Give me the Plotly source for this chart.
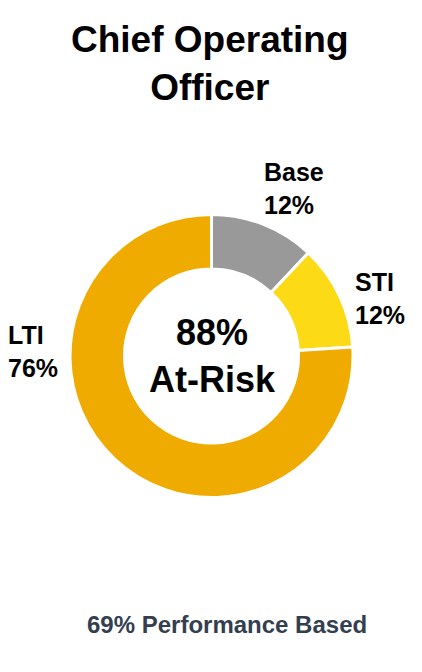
import plotly.graph_objects as go

labels = ["Base", "STI", "LTI"]
values = [12, 12, 76]
colors = ["#999999", "#FDDA16", "#F0AB00"]
title_text = "Chief Operating<br>Officer"
center_text = "88%<br>At-Risk"
footer_text = "69% Performance Based"

W, H = 422, 672
FONT = "Liberation Sans, Arial, sans-serif"

fig = go.Figure(go.Pie(
    labels=labels, values=values, sort=False, direction="clockwise", rotation=0,
    hole=0.615, marker=dict(colors=colors, line=dict(color="white", width=3)),
    textinfo="none", hoverinfo="label+percent", showlegend=False,
    domain=dict(x=[70 / W, 353 / W], y=[(H - 497.5) / H, (H - 214.5) / H]),
))

def px(x, y):
    return x / W, 1 - y / H

annots = []
# title
x, y = px(210, 63)
annots.append(dict(x=x, y=y, text=f"<b>{title_text}</b>", font=dict(size=37, color="black", family=FONT),
                   xanchor="center", yanchor="middle"))
# center
x, y = px(212, 356)
annots.append(dict(x=x, y=y, text=f"<b>{center_text}</b>", font=dict(size=36, color="black", family=FONT),
                   xanchor="center", yanchor="middle"))
# slice labels
label_pos = {"Base": (262, 188), "STI": (353, 298), "LTI": (6, 351)}
for lab, val in zip(labels, values):
    lx, ly = label_pos[lab]
    x, y = px(lx, ly)
    annots.append(dict(x=x, y=y, text=f"<b>{lab}<br>{val}%</b>", align="left",
                       font=dict(size=25, color="black", family=FONT),
                       xanchor="left", yanchor="middle"))
# footer
x, y = px(227, 624)
annots.append(dict(x=x, y=y, text=f"<b>{footer_text}</b>", font=dict(size=24, color="#333F50", family=FONT),
                   xanchor="center", yanchor="middle"))

for a in annots:
    a.update(xref="paper", yref="paper", showarrow=False)

fig.update_layout(width=W, height=H, margin=dict(l=0, r=0, t=0, b=0),
                  paper_bgcolor="white", plot_bgcolor="white", annotations=annots)
fig.write_html("out.html")
